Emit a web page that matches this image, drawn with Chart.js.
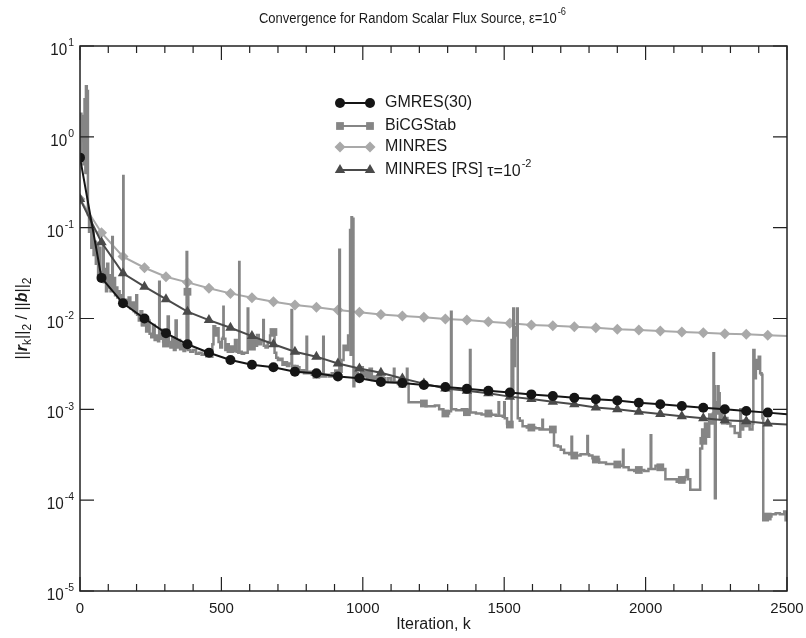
<!DOCTYPE html>
<html>
<head>
<meta charset="utf-8">
<script src="https://cdn.jsdelivr.net/npm/chart.js@4.4.1/dist/chart.umd.min.js"></script>
<style>
  html, body { margin: 0; padding: 0; background: #fff; }
</style>
</head>
<body>
<canvas id="convChart" width="806" height="638"></canvas>
<script>
// iterations where the smooth solvers were sampled (markers), last one is the end of the run
const markIter = [0, 76, 152, 228, 304, 380, 456, 532, 608, 684, 760, 836, 912, 988, 1064, 1140, 1216,
  1292, 1368, 1444, 1520, 1596, 1672, 1748, 1824, 1900, 1976, 2052, 2128, 2204, 2280, 2356, 2432, 2500];

const gmresRes = [0.59, 0.028, 0.0147, 0.0100, 0.0069, 0.0052, 0.0042, 0.0035, 0.0031, 0.0029, 0.0026,
  0.0025, 0.0023, 0.0022, 0.0020, 0.00195, 0.00185, 0.00176, 0.00168, 0.0016, 0.00153, 0.00146, 0.0014,
  0.00134, 0.00129, 0.00125, 0.00118, 0.00114, 0.00109, 0.00104, 0.0010, 0.00096, 0.00092, 0.00088];

const minresRes = [0.207, 0.088, 0.048, 0.0362, 0.0288, 0.025, 0.0215, 0.0189, 0.0169, 0.0153, 0.0141,
  0.0133, 0.0124, 0.0117, 0.0111, 0.01064, 0.0103, 0.00987, 0.0096, 0.0092, 0.00885, 0.0085, 0.0083,
  0.0081, 0.0079, 0.0076, 0.00747, 0.00728, 0.0071, 0.00698, 0.0068, 0.0067, 0.00653, 0.0064];

const minresRsRes = [0.207, 0.069, 0.0314, 0.0224, 0.0163, 0.0119, 0.0096, 0.0079, 0.0064, 0.0052, 0.0043,
  0.0038, 0.0032, 0.00282, 0.00253, 0.00219, 0.00192, 0.0017, 0.0016, 0.0015, 0.00138, 0.0013, 0.00121,
  0.00114, 0.00105, 0.001, 0.00094, 0.00089, 0.00084, 0.0008, 0.00076, 0.00074, 0.0007, 0.00068];

// BiCGStab history [iteration, residual]
const bicgPoints = [
  [0,0.6],[3,1.8],[5,0.9],[8,1.7],[12,0.5],[16,2.6],[19,0.4],[21,3.6],[24,1.0],[26,3.2],[28,0.14],
  [32,0.09],[36,0.12],[40,0.06],[44,0.095],[48,0.05],[52,0.07],[56,0.04],[60,0.068],[64,0.03],[68,0.06],
  [72,0.032],[76,0.029],[80,0.03],[82,0.068],[84,0.025],[88,0.035],[92,0.02],[96,0.04],[100,0.022],
  [104,0.03],[108,0.02],[112,0.025],[114,0.079],[116,0.02],[120,0.028],[124,0.018],[128,0.022],[132,0.017],
  [136,0.02],[140,0.016],[146,0.018],[150,0.015],[152,0.015],[153,0.37],[154,0.015],[160,0.016],[166,0.014],
  [172,0.017],[178,0.013],[184,0.015],[190,0.012],[196,0.0115],[199,0.018],[202,0.011],[208,0.0095],
  [214,0.012],[220,0.0085],[228,0.009],[234,0.0072],[240,0.0095],[246,0.0068],[252,0.0062],[258,0.0085],
  [264,0.0058],[270,0.0065],[276,0.0056],[280,0.0254],[282,0.006],[288,0.0075],[294,0.0055],[300,0.0065],
  [304,0.0053],[310,0.0105],[314,0.0055],[320,0.0048],[326,0.0062],[332,0.0045],[338,0.0095],[342,0.0048],
  [348,0.0058],[354,0.0046],[360,0.0052],[366,0.0044],[372,0.0048],[376,0.0046],[377,0.054],[379,0.02],
  [380,0.0197],[383,0.0045],[390,0.0043],[400,0.0045],[410,0.0041],[420,0.0042],[430,0.004],[440,0.0041],
  [450,0.004],[456,0.0041],[462,0.0038],[468,0.0052],[472,0.0082],[478,0.0065],[484,0.0078],[490,0.0055],
  [496,0.0048],[502,0.006],[506,0.0062],[507,0.0135],[508,0.006],[514,0.0045],[520,0.0052],[526,0.0044],
  [532,0.0046],[540,0.0044],[548,0.0058],[554,0.0043],[560,0.0042],[563,0.042],[564,0.0043],[572,0.0041],
  [580,0.0042],[588,0.0042],[593,0.0129],[595,0.0055],[600,0.0058],[608,0.0049],[614,0.0062],[620,0.005],
  [626,0.0066],[632,0.0052],[640,0.0056],[648,0.0096],[650,0.005],[656,0.0048],[664,0.0055],[672,0.0065],
  [680,0.0072],[684,0.0071],[688,0.0042],[694,0.0037],[700,0.0035],[708,0.0036],[716,0.0031],[724,0.0033],
  [732,0.003],[740,0.0032],[748,0.0124],[750,0.003],[760,0.0028],[768,0.0029],[776,0.0026],[784,0.0027],
  [792,0.0025],[801,0.0063],[803,0.0025],[812,0.0026],[820,0.0024],[828,0.0025],[836,0.0024],[844,0.0025],
  [852,0.0023],[860,0.0063],[862,0.0023],[870,0.0024],[880,0.0023],[890,0.0025],[900,0.0024],[912,0.0025],
  [917,0.057],[919,0.0026],[925,0.0035],[932,0.005],[940,0.0045],[948,0.0065],[955,0.094],[957,0.004],
  [960,0.13],[962,0.006],[965,0.125],[967,0.0018],[970,0.0028],[976,0.0025],[982,0.0024],[988,0.0022],
  [994,0.0029],[1000,0.0023],[1008,0.0026],[1016,0.0022],[1024,0.0028],[1032,0.0021],[1040,0.0023],
  [1048,0.0021],[1056,0.0024],[1064,0.0021],[1072,0.0022],[1080,0.002],[1090,0.0022],[1100,0.002],
  [1110,0.0028],[1112,0.002],[1124,0.0019],[1140,0.0019],[1150,0.0021],[1156,0.0028],[1158,0.0019],
  [1162,0.0012],[1180,0.0012],[1200,0.0012],[1216,0.00116],[1222,0.00108],[1240,0.00108],[1255,0.0011],
  [1270,0.001],[1285,0.00095],[1292,0.0009],[1305,0.00095],[1312,0.0119],[1314,0.001],[1330,0.00098],
  [1350,0.001],[1368,0.00093],[1376,0.00095],[1379,0.0045],[1381,0.00092],[1400,0.0009],[1420,0.00088],
  [1444,0.0009],[1455,0.00087],[1470,0.00085],[1480,0.0012],[1482,0.00085],[1495,0.00083],[1500,0.0012],
  [1502,0.0008],[1510,0.0007],[1520,0.00068],[1526,0.0058],[1528,0.0015],[1532,0.0129],[1534,0.003],
  [1538,0.0065],[1542,0.008],[1545,0.0129],[1548,0.0008],[1555,0.00075],[1565,0.00065],[1580,0.00063],
  [1596,0.00063],[1610,0.00062],[1625,0.0006],[1635,0.00077],[1637,0.0006],[1650,0.0006],[1672,0.0006],
  [1676,0.0004],[1690,0.00039],[1700,0.00036],[1712,0.00033],[1730,0.00032],[1738,0.0005],[1740,0.00031],
  [1748,0.00031],[1760,0.00031],[1770,0.00032],[1794,0.00051],[1796,0.00032],[1800,0.00031],[1812,0.00029],
  [1824,0.00028],[1836,0.00026],[1860,0.00025],[1880,0.00025],[1900,0.000247],[1910,0.00024],[1920,0.00036],
  [1922,0.00023],[1940,0.000215],[1960,0.00021],[1976,0.000215],[1995,0.00021],[2010,0.00022],[2018,0.00052],
  [2020,0.00022],[2035,0.00024],[2052,0.00023],[2060,0.00022],[2070,0.00017],[2090,0.00017],[2110,0.00016],
  [2128,0.000167],[2140,0.00018],[2145,0.000215],[2150,0.00017],[2158,0.00013],[2175,0.00013],[2190,0.00013],
  [2193,0.00037],[2200,0.0006],[2204,0.00045],[2210,0.0007],[2218,0.0005],[2225,0.00088],[2232,0.0007],
  [2238,0.0009],[2240,0.00414],[2242,0.0018],[2245,0.000105],[2248,0.0012],[2252,0.0009],[2255,0.0018],
  [2258,0.0015],[2262,0.0008],[2270,0.0009],[2280,0.00075],[2290,0.0007],[2300,0.00065],[2315,0.00055],
  [2330,0.0005],[2335,0.001],[2337,0.0006],[2345,0.00075],[2356,0.0007],[2368,0.0006],[2378,0.0007],
  [2381,0.0045],[2385,0.0022],[2390,0.0035],[2395,0.0028],[2400,0.0038],[2405,0.0025],[2410,0.0024],
  [2413,0.0008],[2416,0.00006],[2432,0.000066],[2445,0.00007],[2460,0.000072],[2475,0.00007],
  [2490,0.000075],[2495,0.00006],[2500,0.000075]
];

const yDecades = [1, 0, -1, -2, -3, -4, -5];
const MARK_EVERY = 76;
const FONT = '"Liberation Sans", Arial, Helvetica, sans-serif';

const series = [
  { label: 'GMRES(30)', color: '#151515', style: 'circle', radius: 5, values: gmresRes },
  { label: 'BiCGStab', color: '#858585', style: 'rect', radius: 5.5 },
  { label: 'MINRES', color: '#a9a9a9', style: 'rectRot', radius: 5.5, values: minresRes },
  { label: 'MINRES [RS]', color: '#4a4a4a', style: 'triangle', radius: 6, values: minresRsRes }
];

function smoothSet(s, order) {
  return {
    label: s.label,
    data: markIter.map((k, i) => ({ x: k, y: s.values[i] })),
    borderColor: s.color,
    backgroundColor: s.color,
    borderWidth: 2,
    pointStyle: s.style,
    pointRadius: c => (c.dataIndex < markIter.length - 1 ? s.radius : 0),
    pointBorderWidth: 0,
    order: order
  };
}

const bicg = series[1];
const datasets = [
  smoothSet(series[0], 0),
  smoothSet(series[3], 1),
  {
    label: bicg.label,
    data: bicgPoints.map(p => ({ x: p[0], y: p[1] })),
    borderColor: bicg.color,
    backgroundColor: bicg.color,
    borderWidth: 2.5,
    stepped: true,
    clip: 0,
    pointStyle: 'rect',
    pointRadius: c => (c.raw && c.raw.x % MARK_EVERY === 0 ? bicg.radius : 0),
    pointBorderWidth: 0,
    order: 2
  },
  smoothSet(series[2], 3)
];

// text with a raised exponent; sx squeezes the text horizontally
function drawPow(ctx, base, exp, x, y, size, align, sx) {
  sx = sx || 1;
  ctx.font = size + 'px ' + FONT;
  const wb = ctx.measureText(base).width * sx;
  ctx.font = Math.round(size * 0.68) + 'px ' + FONT;
  const we = ctx.measureText(exp).width * sx;
  let x0 = x;
  if (align === 'right') x0 = x - wb - we;
  if (align === 'center') x0 = x - (wb + we) / 2;
  ctx.save();
  ctx.translate(x0, y);
  ctx.scale(sx, 1);
  ctx.textAlign = 'left';
  ctx.textBaseline = 'alphabetic';
  ctx.font = size + 'px ' + FONT;
  ctx.fillText(base, 0, 0);
  ctx.font = Math.round(size * 0.68) + 'px ' + FONT;
  ctx.fillText(exp, (wb + 1) / sx, -size * 0.55);
  ctx.restore();
}

const decorations = {
  id: 'decorations',
  afterDraw(chart) {
    const { ctx, chartArea: a, scales: { x, y } } = chart;
    ctx.save();

    // frame and inward ticks
    ctx.strokeStyle = '#222';
    ctx.lineWidth = 1.5;
    ctx.strokeRect(a.left, a.top, a.right - a.left, a.bottom - a.top);
    ctx.lineWidth = 1.2;
    ctx.beginPath();
    for (let k = 0; k <= 2500; k += 100) {
      const px = x.getPixelForValue(k);
      const len = k % 500 === 0 ? 14 : 7;
      ctx.moveTo(px, a.bottom); ctx.lineTo(px, a.bottom - len);
      ctx.moveTo(px, a.top); ctx.lineTo(px, a.top + len);
    }
    yDecades.forEach(e => {
      const py = y.getPixelForValue(Math.pow(10, e));
      ctx.moveTo(a.left, py); ctx.lineTo(a.left + 14, py);
      ctx.moveTo(a.right, py); ctx.lineTo(a.right - 14, py);
    });
    ctx.stroke();

    // y tick labels 10^n
    ctx.fillStyle = '#1a1a1a';
    yDecades.forEach(e => {
      const py = y.getPixelForValue(Math.pow(10, e));
      drawPow(ctx, '10', String(e), 73, py + 9, 16, 'right', 0.95);
    });

    // title
    drawPow(ctx, 'Convergence for Random Scalar Flux Source, \u03b5=10', '-6', 412, 23, 14, 'center', 0.93);

    // y axis title: ||r_k||_2 / ||b||_2
    const parts = [
      { t: '||', f: '16px ' + FONT, d: 0 },
      { t: 'r', f: 'italic bold 16px ' + FONT, d: 0 },
      { t: 'k', f: '12px ' + FONT, d: 4 },
      { t: '||', f: '16px ' + FONT, d: 0 },
      { t: '2', f: '12px ' + FONT, d: 4 },
      { t: ' / ||', f: '16px ' + FONT, d: 0 },
      { t: 'b', f: 'italic bold 16px ' + FONT, d: 0 },
      { t: '||', f: '16px ' + FONT, d: 0 },
      { t: '2', f: '12px ' + FONT, d: 4 }
    ];
    let total = 0;
    parts.forEach(p => { ctx.font = p.f; p.w = ctx.measureText(p.t).width; total += p.w; });
    ctx.save();
    ctx.translate(27, (a.top + a.bottom) / 2);
    ctx.rotate(-Math.PI / 2);
    ctx.textAlign = 'left';
    ctx.textBaseline = 'alphabetic';
    let cx = -total / 2;
    parts.forEach(p => { ctx.font = p.f; ctx.fillText(p.t, cx, p.d); cx += p.w; });
    ctx.restore();

    // legend
    const rows = [103, 126, 147, 170];
    series.forEach((s, i) => {
      const ly = rows[i];
      ctx.strokeStyle = s.color;
      ctx.fillStyle = s.color;
      ctx.lineWidth = 2;
      ctx.beginPath();
      ctx.moveTo(340, ly); ctx.lineTo(370, ly);
      ctx.stroke();
      [340, 370].forEach(mx => {
        Chart.helpers.drawPoint(ctx, { pointStyle: s.style, radius: s.radius, borderWidth: 0, rotation: 0 }, mx, ly);
      });
      ctx.fillStyle = '#1a1a1a';
      ctx.font = '16px ' + FONT;
      ctx.textAlign = 'left';
      ctx.textBaseline = 'middle';
      if (i === 3) {
        ctx.fillText('MINRES [RS] ', 385, ly);
        const w = ctx.measureText('MINRES [RS] ').width;
        drawPow(ctx, '\u03c4=10', '-2', 385 + w, ly + 6, 16, 'left');
      } else {
        ctx.fillText(s.label, 385, ly);
      }
    });
    ctx.restore();
  }
};

const ctx = document.getElementById('convChart').getContext('2d');
new Chart(ctx, {
  type: 'line',
  data: { datasets: datasets },
  options: {
    responsive: false,
    animation: false,
    layout: { padding: { top: 46, right: 19, bottom: 0, left: 0 } },
    plugins: { legend: { display: false }, tooltip: { enabled: false } },
    scales: {
      x: {
        type: 'linear',
        min: 0,
        max: 2500,
        grid: { display: false, drawTicks: false },
        border: { display: false },
        ticks: {
          stepSize: 500, padding: 9, color: '#1a1a1a', maxRotation: 0,
          font: { family: FONT, size: 15 },
          callback: v => String(v)
        },
        title: { display: true, text: 'Iteration, k', color: '#1a1a1a', font: { family: FONT, size: 16 }, padding: { top: 0, bottom: 4 } },
        afterFit: s => { s.height = 47; s.paddingLeft = 0; s.paddingRight = 0; }
      },
      y: {
        type: 'logarithmic',
        min: 1e-5,
        max: 10,
        grid: { display: false, drawTicks: false },
        border: { display: false },
        ticks: { display: false },
        afterFit: s => { s.width = 80; s.paddingTop = 0; s.paddingBottom = 0; }
      }
    }
  },
  plugins: [decorations]
});
</script>
</body>
</html>
